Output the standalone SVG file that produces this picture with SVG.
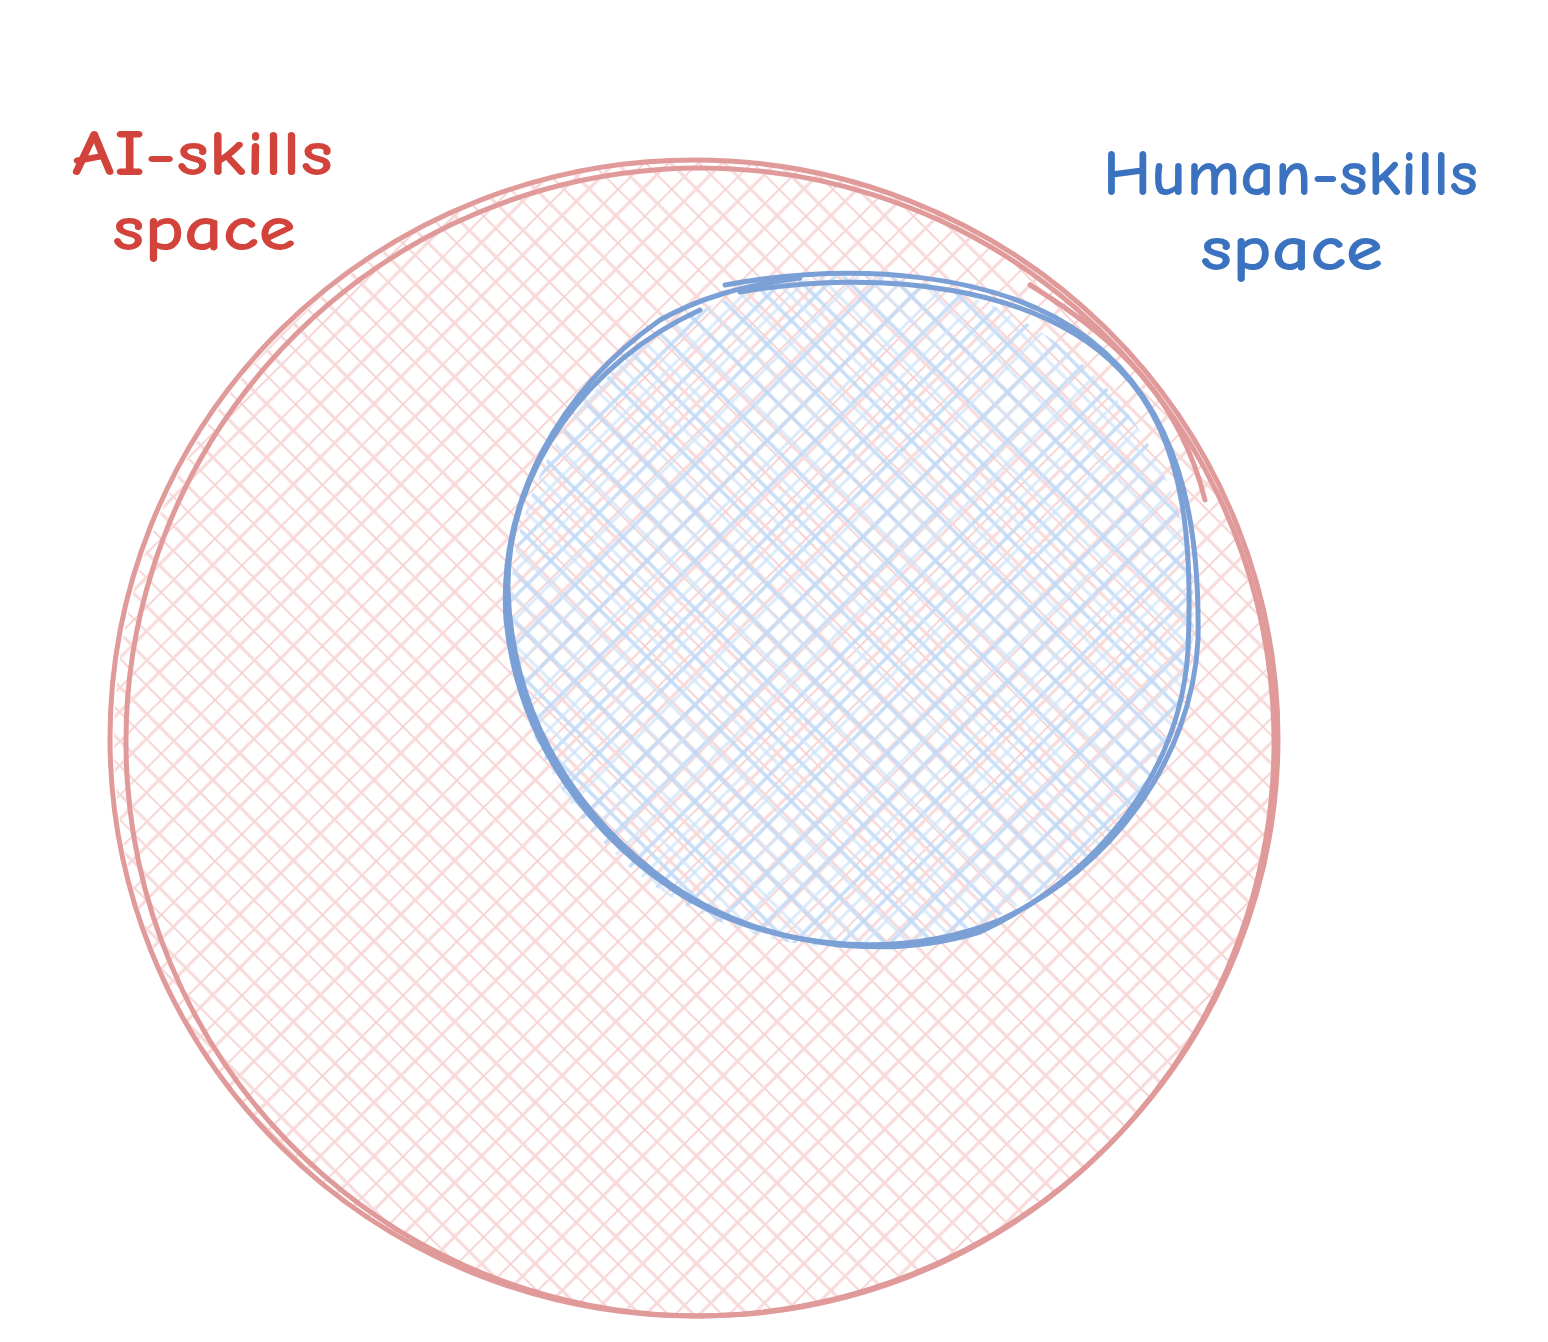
<svg xmlns="http://www.w3.org/2000/svg" width="1548" height="1342" viewBox="0 0 1548 1342">
<defs>
<pattern id="hatchRed" patternUnits="userSpaceOnUse" width="38" height="38" patternTransform="rotate(45)">
<line x1="0" y1="0" x2="0" y2="38" stroke="#f6d0d0" stroke-width="3.5"/>
<line x1="0" y1="0" x2="38" y2="0" stroke="#f6d0d0" stroke-width="3.5"/>
<line x1="18" y1="0" x2="18" y2="38" stroke="#f8d9d9" stroke-width="3"/>
<line x1="0" y1="21" x2="38" y2="21" stroke="#f8d9d9" stroke-width="3"/>
</pattern>
<pattern id="hatchBlue" patternUnits="userSpaceOnUse" width="34" height="34" patternTransform="rotate(45)">
<line x1="4" y1="0" x2="4" y2="34" stroke="#c2daf7" stroke-width="3.5" stroke-opacity="0.9"/>
<line x1="0" y1="7" x2="34" y2="7" stroke="#c2daf7" stroke-width="3.5" stroke-opacity="0.9"/>
<line x1="20" y1="0" x2="20" y2="34" stroke="#cfe2f8" stroke-width="3" stroke-opacity="0.75"/>
<line x1="0" y1="24" x2="34" y2="24" stroke="#cfe2f8" stroke-width="3" stroke-opacity="0.75"/>
</pattern>
<style>
.redline{fill:none;stroke:#e09a9a;stroke-width:5;stroke-linecap:round}
.blueline{fill:none;stroke:#7aa0d6;stroke-width:5;stroke-linecap:round}
.lbl{font-family:"Comic Neue","Liberation Sans",sans-serif;font-size:64px;font-weight:bold}
</style>
</defs>
<rect width="1548" height="1342" fill="#ffffff"/>
<g id="ai-space">
<ellipse cx="694" cy="740" rx="580" ry="578" fill="url(#hatchRed)"/>
<ellipse class="redline" cx="694" cy="738" rx="584" ry="578"/>
<ellipse class="redline" cx="700" cy="742" rx="574" ry="574" transform="rotate(-4 700 742)"/>
<path class="redline" d="M1030 285 C1120 340 1180 400 1205 500"/>
</g>
<g id="human-space">
<ellipse cx="852" cy="612" rx="342" ry="336" fill="url(#hatchBlue)"/>
<path class="blueline" d="M725 285 C850 262 1000 270 1090 340 C1180 410 1200 520 1198 640 C1192 760 1110 870 1000 920 C900 960 780 950 690 900 C590 840 518 740 506 620 C498 500 560 390 660 320 C700 298 740 286 800 278"/>
<path class="blueline" d="M740 292 C880 268 1040 286 1120 370 C1190 440 1192 560 1188 650 C1180 780 1090 880 980 932 C880 962 760 946 670 884 C560 804 512 700 508 590 C506 470 590 360 700 310"/>
</g>
<g id="labels">
<text class="lbl" x="72" y="175" fill="#d1433b" textLength="261" lengthAdjust="spacingAndGlyphs">AI-skills</text>
<text class="lbl" x="112" y="250" fill="#d1433b" textLength="184" lengthAdjust="spacingAndGlyphs">space</text>
<text class="lbl" x="1103" y="195" fill="#3a72c0" textLength="375" lengthAdjust="spacingAndGlyphs">Human-skills</text>
<text class="lbl" x="1200" y="270" fill="#3a72c0" textLength="183" lengthAdjust="spacingAndGlyphs">space</text>
</g>
<g id="connectors"></g>
</svg>
